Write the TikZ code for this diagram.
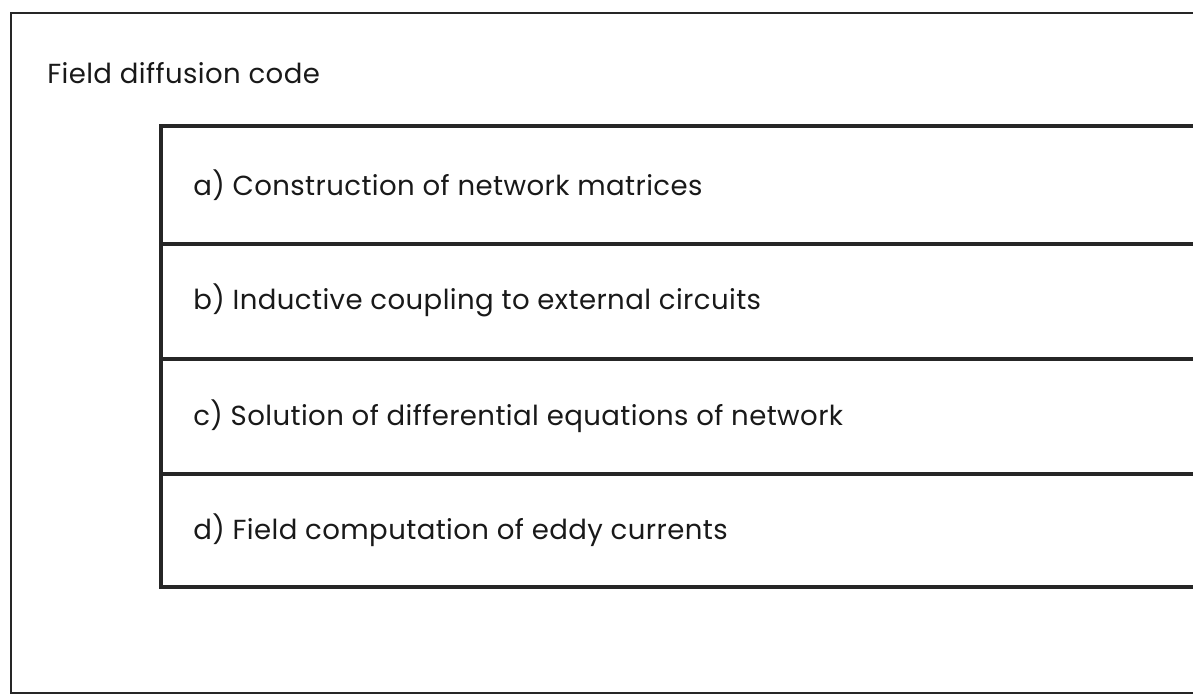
\documentclass[tikz,border=0pt]{standalone}
\usepackage{fontspec}
\setmainfont{Poppins}[LetterSpace=1.5]
\tikzset{
    frame/.style={line width=1.8pt, black!85},
    table/.style={line width=2.4pt, black!85},
    entry/.style={anchor=west, inner sep=0pt, font=\fontsize{19.6}{22}\selectfont, text=black!90}
}
\begin{document}
\begin{tikzpicture}[x=0.025cm, y=-0.025cm]
        \useasboundingbox (0,0) rectangle (1193,697);

        % outer frame, open on the right
        \draw[frame] (1193,13) -- (11,13) -- (11,693) -- (1193,693);
        \node[entry] (title) at (47,73) {Field diffusion code};

        % inner table
        \draw[table] (1193,126) -- (161,126) -- (161,587) -- (1193,587);
        \draw[table] (161,244) -- (1193,244);
        \draw[table] (161,359) -- (1193,359);
        \draw[table] (161,474) -- (1193,474);

        \node[entry] (parta) at (193,185) {a) Construction of network matrices};
        \node[entry] (partb) at (193,300) {b) Inductive coupling to external circuits};
        \node[entry] (partc) at (193,416) {c) Solution of differential equations of network};
        \node[entry] (partd) at (193,530) {d) Field computation of eddy currents};

    \end{tikzpicture}
\end{document}
